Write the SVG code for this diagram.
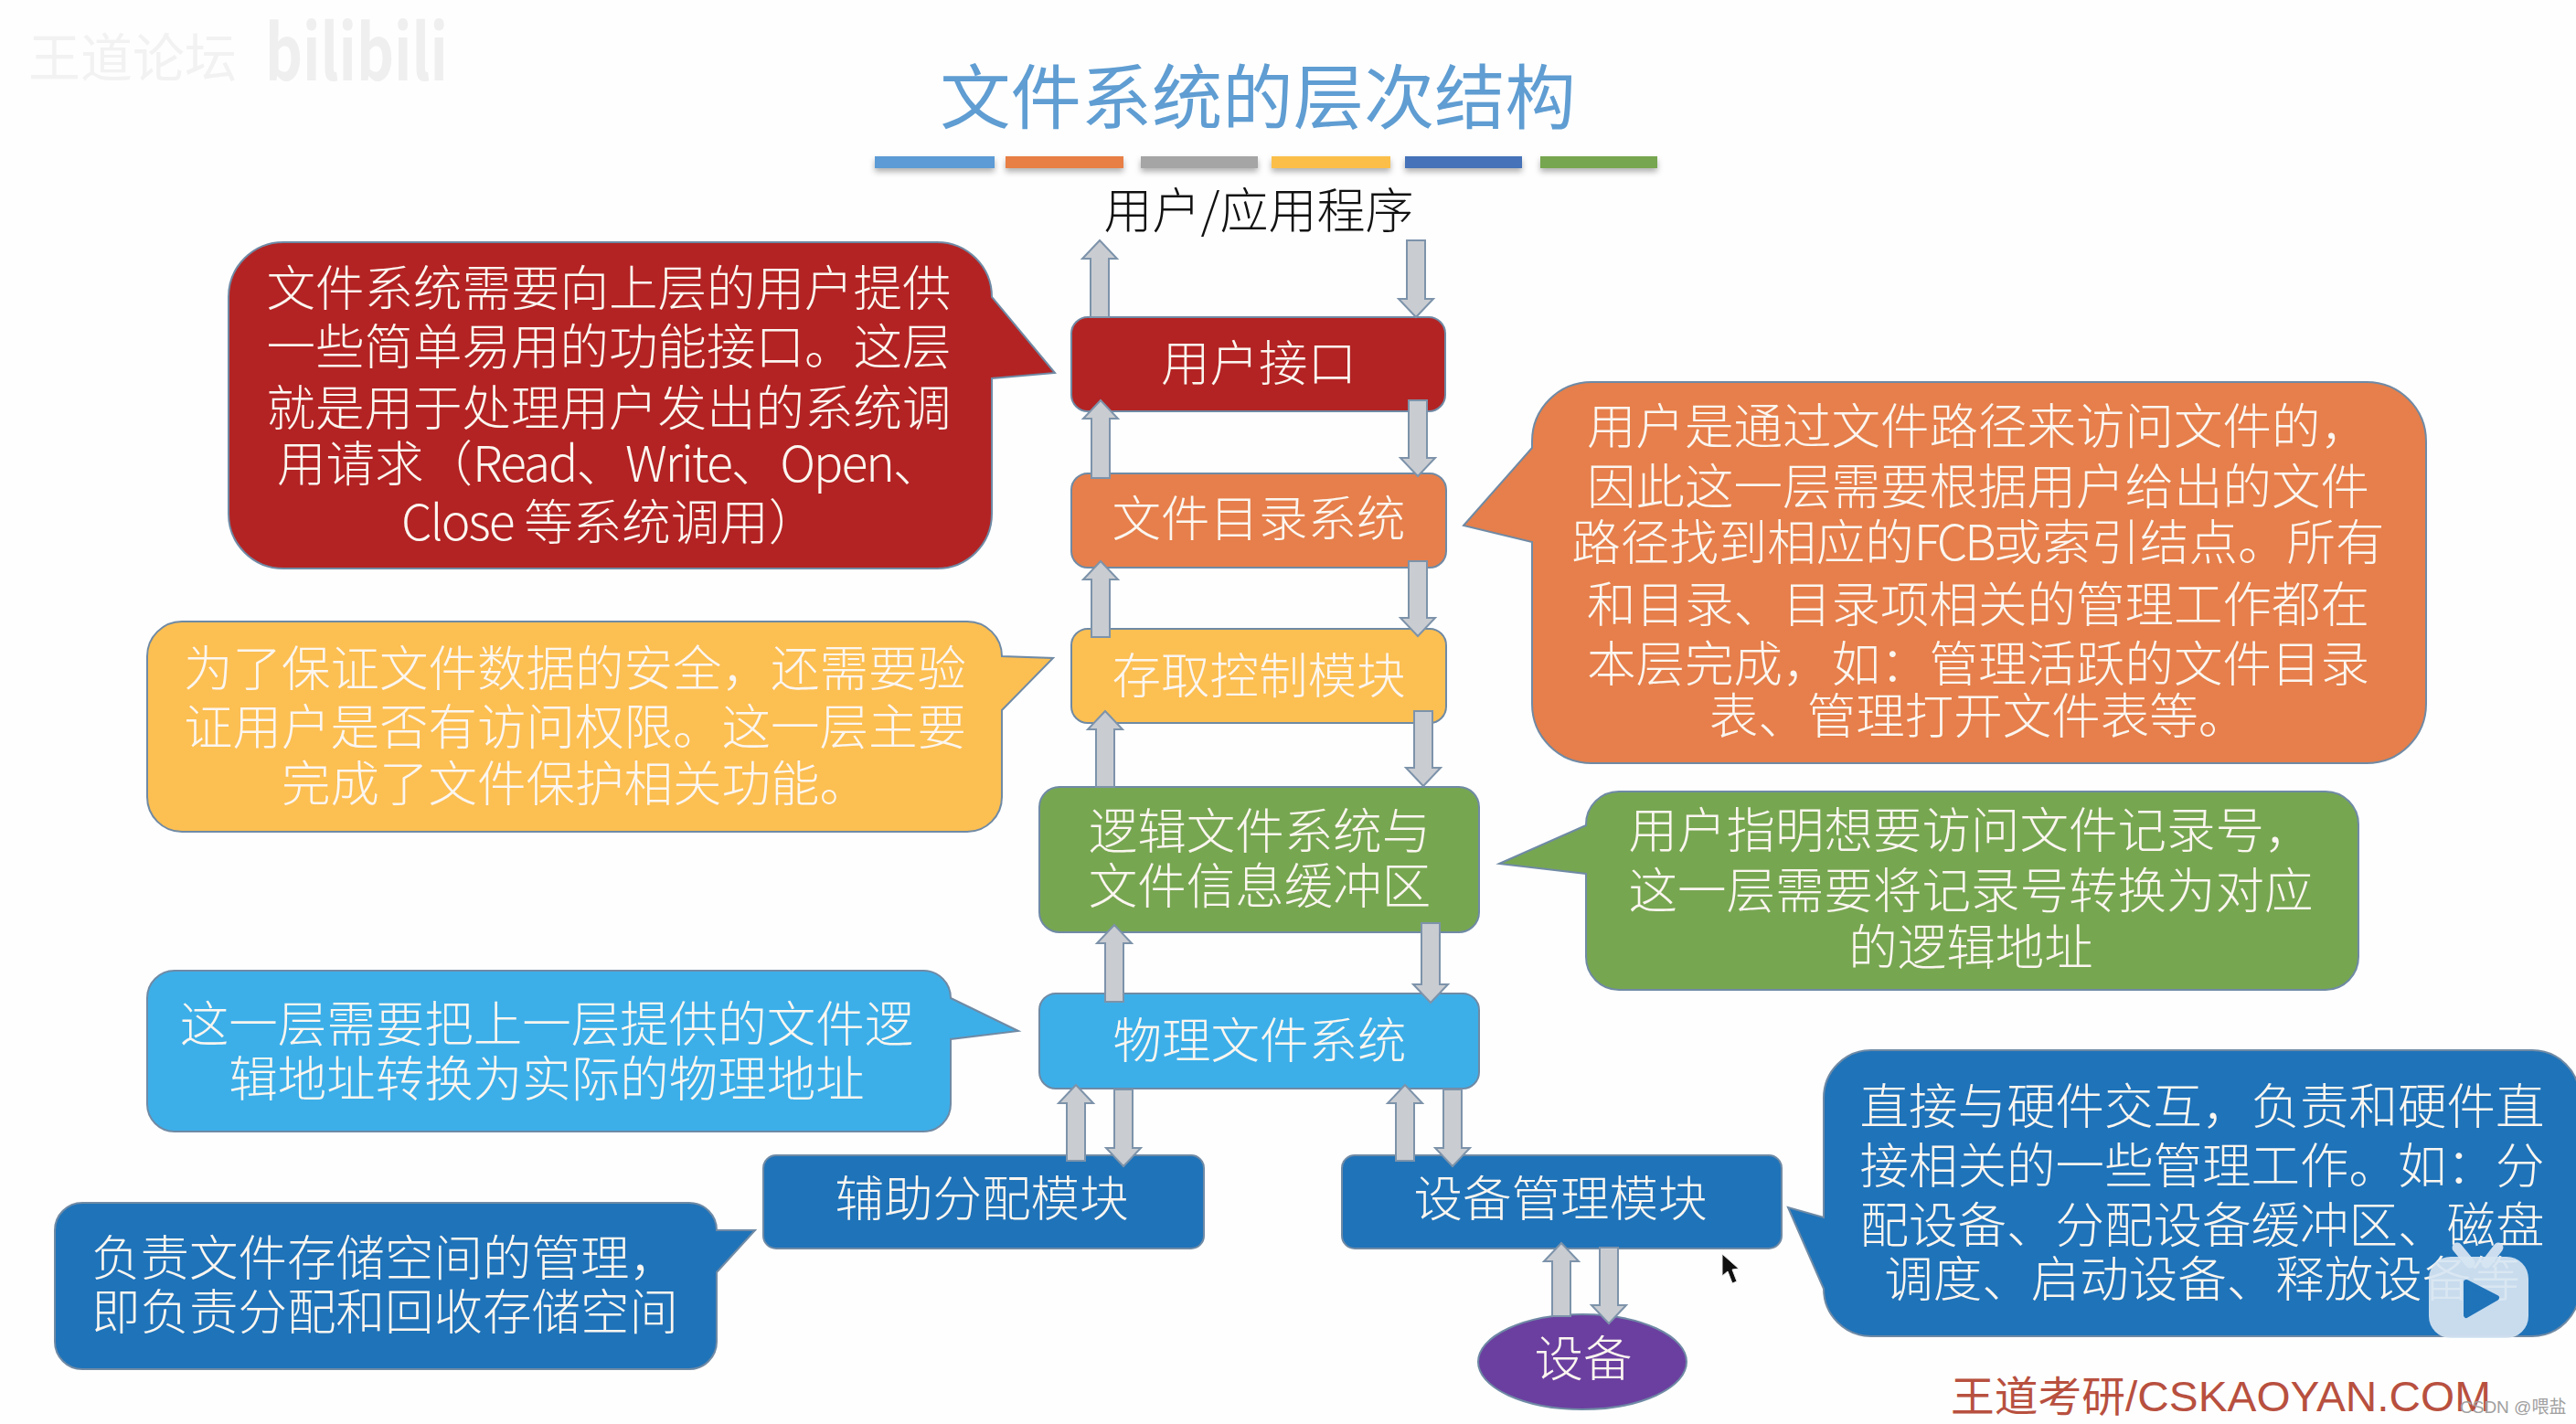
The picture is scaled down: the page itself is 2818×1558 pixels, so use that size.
<svg xmlns="http://www.w3.org/2000/svg" width="2818" height="1558" viewBox="0 0 2818 1558">
<defs>
<style>
text{font-family:"Noto Sans CJK SC","Noto Sans",sans-serif;}
.t{font-size:53.5px;fill:#fbf6f0;text-anchor:middle;font-weight:300;}
.s{text-anchor:start;}
.n{stroke:#6f8aa5;stroke-width:2;}
.b{stroke:#6f8aa5;stroke-width:2;}
.a{fill:#c9ccd1;stroke:#7d93aa;stroke-width:2;}
</style>
<filter id="sh" x="-5%" y="-50%" width="110%" height="250%"><feDropShadow dx="0" dy="4" stdDeviation="3" flood-color="#000" flood-opacity="0.3"/></filter>
</defs>
<rect width="2818" height="1558" fill="#fefefe"/>
<g id="watermark">
<text x="31" y="84" font-size="57" fill="#f2f2f2">王道论坛</text>
<text x="290" y="88" font-size="84" font-weight="700" fill="#efefef" textLength="200" lengthAdjust="spacingAndGlyphs">bilibili</text>
</g>
<g id="title">
<text x="1376" y="135" font-size="77.3" fill="#5f9dd2" text-anchor="middle">文件系统的层次结构</text>
<g filter="url(#sh)">
<rect x="957" y="171" width="131" height="13" fill="#5b9bd5"/>
<rect x="1100" y="171" width="129" height="13" fill="#e87f45"/>
<rect x="1248" y="171" width="128" height="13" fill="#a5a5a5"/>
<rect x="1391" y="171" width="130" height="13" fill="#fbbf4a"/>
<rect x="1537" y="171" width="128" height="13" fill="#4472b8"/>
<rect x="1685" y="171" width="128" height="13" fill="#76a650"/>
</g>
</g>
<g id="app"><text x="1377" y="250" font-size="53" font-weight="300" fill="#111" text-anchor="middle">用户/应用程序</text></g>

<g id="node-user-interface"><rect class="n" x="1172" y="347" width="409" height="103" rx="18" fill="#b32323"/><text class="t" x="1377" y="417">用户接口</text></g>
<g id="node-directory"><rect class="n" x="1172" y="518" width="410" height="103" rx="18" fill="#e67f4b"/><text class="t" x="1377" y="587">文件目录系统</text></g>
<g id="node-access"><rect class="n" x="1172" y="688" width="410" height="103" rx="18" fill="#fcbf52"/><text class="t" x="1377" y="759">存取控制模块</text></g>
<g id="node-logical"><rect class="n" x="1137" y="861" width="481" height="159" rx="22" fill="#77a651"/><text class="t" x="1378" y="929">逻辑文件系统与</text><text class="t" x="1378" y="989">文件信息缓冲区</text></g>
<g id="node-physical"><rect class="n" x="1137" y="1087" width="481" height="104" rx="18" fill="#3cafe9"/><text class="t" x="1378" y="1158">物理文件系统</text></g>
<g id="node-alloc"><rect class="n" x="835" y="1264" width="482" height="102" rx="14" fill="#1f73b9"/><text class="t" x="1074" y="1331">辅助分配模块</text></g>
<g id="node-device-mgmt"><rect class="n" x="1468" y="1264" width="481" height="102" rx="14" fill="#1f73b9"/><text class="t" x="1707" y="1331">设备管理模块</text></g>
<g id="node-device"><ellipse class="n" cx="1731" cy="1490" rx="114" ry="52" fill="#6b3fa0"/><text class="t" x="1732" y="1506">设备</text></g>

<g id="connectors">
<path class="a" d="M1203 263L1222 283H1213V347H1193V283H1184Z"/>
<path class="a" d="M1204 438L1223 458H1214V523H1194V458H1185Z"/>
<path class="a" d="M1204 614L1223 634H1214V697H1194V634H1185Z"/>
<path class="a" d="M1209 778L1228 798H1219V861H1199V798H1190Z"/>
<path class="a" d="M1219 1012L1238 1032H1229V1096H1209V1032H1200Z"/>
<path class="a" d="M1177 1187L1196 1207H1187V1270H1167V1207H1158Z"/>
<path class="a" d="M1537 1187L1556 1207H1547V1270H1527V1207H1518Z"/>
<path class="a" d="M1708 1360L1727 1380H1718V1440H1698V1380H1689Z"/>
<path class="a" d="M1539 263H1559V327H1568L1549 347L1530 327H1539Z"/>
<path class="a" d="M1541 438H1561V501H1570L1551 521L1532 501H1541Z"/>
<path class="a" d="M1541 614H1561V676H1570L1551 696L1532 676H1541Z"/>
<path class="a" d="M1547 778H1567V840H1576L1557 860L1538 840H1547Z"/>
<path class="a" d="M1555 1010H1575V1077H1584L1565 1097L1546 1077H1555Z"/>
<path class="a" d="M1219 1192H1239V1256H1248L1229 1276L1210 1256H1219Z"/>
<path class="a" d="M1579 1192H1599V1256H1608L1589 1276L1570 1256H1579Z"/>
<path class="a" d="M1750 1365H1770V1428H1779L1760 1448L1741 1428H1750Z"/>
</g>

<g id="callout-red" transform="translate(0 1)">
<path class="b" fill="#b32323" d="M310 264H1025A60 60 0 0 1 1085 324L1154 407L1085 413V561A60 60 0 0 1 1025 621H310A60 60 0 0 1 250 561V324A60 60 0 0 1 310 264Z"/>
<text class="t" x="666" y="334">文件系统需要向上层的用户提供</text>
<text class="t" x="666" y="398">一些简单易用的功能接口。这层</text>
<text class="t" x="666" y="465">就是用于处理用户发出的系统调</text>
<text class="t s" x="303" y="526">用请求（<tspan letter-spacing="-2">Read</tspan>、<tspan letter-spacing="-2">Write</tspan>、<tspan letter-spacing="-2">Open</tspan>、</text>
<text class="t s" x="439" y="590"><tspan letter-spacing="-2">Close</tspan> 等系统调用）</text>
</g>
<g id="callout-yellow" transform="translate(0 1)">
<path class="b" fill="#fcbf52" d="M199 679H1058A38 38 0 0 1 1096 717L1152 719L1096 776V871A38 38 0 0 1 1058 909H199A38 38 0 0 1 161 871V717A38 38 0 0 1 199 679Z"/>
<text class="t" x="629" y="750">为了保证文件数据的安全，还需要验</text>
<text class="t" x="629" y="814">证用户是否有访问权限。这一层主要</text>
<text class="t" x="629" y="876">完成了文件保护相关功能。</text>
</g>
<g id="callout-orange" transform="translate(0 1)">
<path class="b" fill="#e67f4b" d="M1741 417H2589A65 65 0 0 1 2654 482V769A65 65 0 0 1 2589 834H1741A65 65 0 0 1 1676 769V592L1601 574L1676 489V482A65 65 0 0 1 1741 417Z"/>
<text class="t" x="2164" y="485">用户是通过文件路径来访问文件的，</text>
<text class="t" x="2164" y="551">因此这一层需要根据用户给出的文件</text>
<text class="t" x="2164" y="612">路径找到相应的<tspan letter-spacing="-3">FCB</tspan>或索引结点。所有</text>
<text class="t" x="2164" y="680">和目录、目录项相关的管理工作都在</text>
<text class="t" x="2164" y="745">本层完成，如：管理活跃的文件目录</text>
<text class="t" x="2164" y="802">表、管理打开文件表等。</text>
</g>
<g id="callout-green" transform="translate(0 1)">
<path class="b" fill="#77a651" d="M1771 865H2544A36 36 0 0 1 2580 901V1046A36 36 0 0 1 2544 1082H1771A36 36 0 0 1 1735 1046V955L1640 944L1735 902V901A36 36 0 0 1 1771 865Z"/>
<text class="t" x="2156" y="927">用户指明想要访问文件记录号，</text>
<text class="t" x="2156" y="993">这一层需要将记录号转换为对应</text>
<text class="t" x="2156" y="1055">的逻辑地址</text>
</g>
<g id="callout-lightblue" transform="translate(0 1)">
<path class="b" fill="#3cafe9" d="M191 1061H1010A30 30 0 0 1 1040 1091L1114 1127L1040 1136V1207A30 30 0 0 1 1010 1237H191A30 30 0 0 1 161 1207V1091A30 30 0 0 1 191 1061Z"/>
<text class="t" x="598" y="1139">这一层需要把上一层提供的文件逻</text>
<text class="t" x="598" y="1199">辑地址转换为实际的物理地址</text>
</g>
<g id="callout-darkblue-left" transform="translate(0 1)">
<path class="b" fill="#1f73b9" d="M90 1315H754A30 30 0 0 1 784 1345L826 1345L784 1391V1467A30 30 0 0 1 754 1497H90A30 30 0 0 1 60 1467V1345A30 30 0 0 1 90 1315Z"/>
<text class="t" x="421" y="1395">负责文件存储空间的管理，</text>
<text class="t" x="421" y="1454">即负责分配和回收存储空间</text>
</g>
<g id="callout-darkblue-right" transform="translate(0 1)">
<path class="b" fill="#1f73b9" d="M2047 1148H2770A52 52 0 0 1 2822 1200V1409A52 52 0 0 1 2770 1461H2047A52 52 0 0 1 1995 1409L1956 1320L1995 1331V1200A52 52 0 0 1 2047 1148Z"/>
<text class="t" x="2409" y="1229">直接与硬件交互，负责和硬件直</text>
<text class="t" x="2409" y="1294">接相关的一些管理工作。如：分</text>
<text class="t" x="2409" y="1359">配设备、分配设备缓冲区、磁盘</text>
<text class="t" x="2409" y="1418">调度、启动设备、释放设备等</text>
</g>

<g id="footer">
<text x="2134" y="1544" font-size="46" fill="#b8503f" textLength="591" lengthAdjust="spacingAndGlyphs" style="font-family:'Liberation Sans','Noto Sans CJK SC',sans-serif">王道考研/CSKAOYAN.COM</text>
</g>
<g id="cursor"><path d="M1884 1372L1884 1396L1890 1391L1895 1404L1900 1402L1895 1389L1902 1388Z" fill="#111" stroke="#eee" stroke-width="1"/></g>
<g id="play-icon">
<path d="M2688 1365L2702 1382M2733 1365L2720 1382" fill="none" stroke="#d5e3f1" stroke-width="11" stroke-linecap="round" opacity="0.95"/>
<rect x="2657" y="1375" width="109" height="89" rx="24" fill="#d7e5f2" opacity="0.92"/>
<path d="M2698 1403L2731 1420L2698 1439Z" fill="#1f73b9" stroke="#1f73b9" stroke-width="6" stroke-linejoin="round"/>
</g>
<text x="2691" y="1546" font-size="19" fill="#a0a0a0" style="font-family:'Liberation Sans','Noto Sans CJK SC',sans-serif">CSDN @喂盐</text>
</svg>
